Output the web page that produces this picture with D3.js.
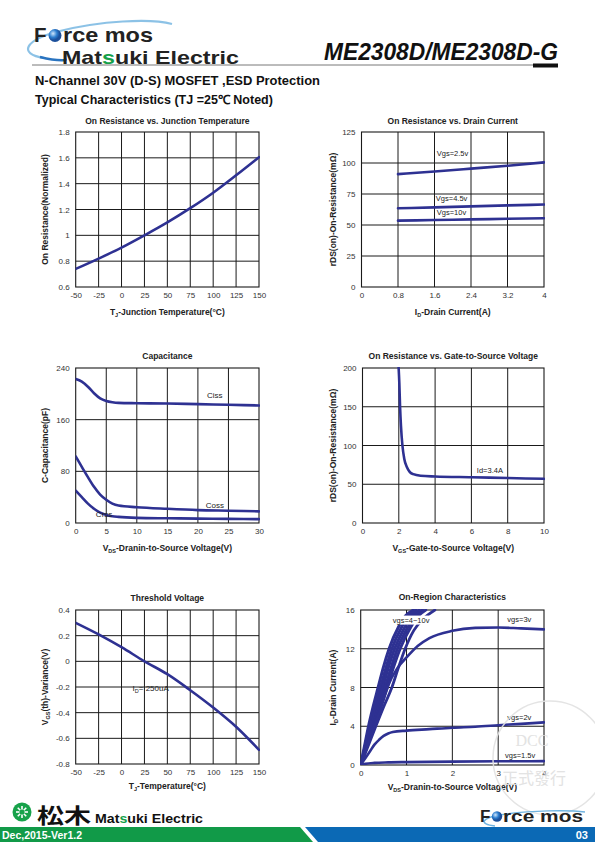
<!DOCTYPE html>
<html><head><meta charset="utf-8">
<script src="https://cdn.jsdelivr.net/npm/d3@7"></script>
<style>
html,body{margin:0;padding:0;background:#fff;}
svg{display:block;font-family:"Liberation Sans",Arial,sans-serif;}
</style></head>
<body>
<svg id="page" width="595" height="842"></svg>
<script>
// ---------------- DATA ----------------
// Chart 1: On Resistance vs Junction Temperature
const c1Temp = [-50,-25,0,25,50,75,100,125,150];
const c1Ron  = [0.74,0.82,0.905,1.0,1.1,1.21,1.33,1.465,1.605];
const c1XTicks = [-50,-25,0,25,50,75,100,125,150];
const c1YTicks = [0.6,0.8,1,1.2,1.4,1.6,1.8];

// Chart 2: On Resistance vs Drain Current
const c2Id = [0.8,1.6,2.4,3.2,4];
const c2Vgs25 = [91,93.2,95.5,97.8,100.5];
const c2Vgs45 = [63.5,64.2,65,65.8,66.5];
const c2Vgs10 = [53.5,54,54.5,55,55.5];
const c2XTicks = [0,0.8,1.6,2.4,3.2,4];
const c2YTicks = [0,25,50,75,100,125];

// Chart 3: Capacitance
const c3Vds  = [0,1,2,3,4,5,6,7,10,15,20,25,30];
const c3Ciss = [223,219,211,201,193,189,187,186,185.5,185,184,183,182];
const c3Coss = [103,87,71,56,44,36,30,27,24.5,22,20,19,18];
const c3Crss = [50,40,30,22,16,12.5,10.5,9.5,8,7.3,6.8,6.4,6];
const c3XTicks = [0,5,10,15,20,25,30];
const c3YTicks = [0,80,160,240];

// Chart 4: On Resistance vs Gate-to-Source Voltage
const c4Vgs = [1.98,2.03,2.07,2.12,2.2,2.3,2.45,2.6,2.8,3.2,4,6,8,10];
const c4Ron = [205,180,150,125,100,83,72,66,63,61,60,59,58,57];
const c4XTicks = [0,2,4,6,8,10];
const c4YTicks = [0,50,100,150,200];

// Chart 5: Threshold Voltage
const c5Temp = [-50,-25,0,25,50,75,100,125,150];
const c5Vth  = [0.3,0.21,0.11,0.0,-0.1,-0.225,-0.36,-0.51,-0.69];
const c5XTicks = [-50,-25,0,25,50,75,100,125,150];
const c5YTicks = [-0.8,-0.6,-0.4,-0.2,0,0.2,0.4];

// Chart 6: On-Region Characteristics (vgs = 4~10 V family, then 3, 2, 1.5 V)
const c6IdFam  = [0,2,4,6,8,10,12,14.3,15.4,16];
const c6VdsA   = [0,0.085,0.17,0.27,0.38,0.49,0.62,0.83,0.98,1.15];
const c6VdsA2  = [0,0.1,0.2,0.31,0.43,0.55,0.68,0.9,1.05,1.21];
const c6VdsB   = [0,0.115,0.23,0.35,0.48,0.6,0.74,0.97,1.12,1.28];
const c6VdsB2  = [0,0.13,0.26,0.39,0.53,0.66,0.8,1.04,1.19,1.35];
const c6VdsC   = [0,0.145,0.29,0.43,0.58,0.71,0.86,1.1,1.26,1.42];
const c6IdD    = [0,2,4,6,8,10,12,13.9,15.1,16];
const c6VdsD   = [0,0.165,0.33,0.5,0.68,0.82,0.97,1.16,1.37,1.62];
const c6Vds3 = [0,0.15,0.3,0.45,0.6,0.8,1.0,1.25,1.5,2,2.5,3,3.5,4];
const c6Id3  = [0,2,4,6,8.2,10,11.1,12.3,13.1,13.85,14.15,14.2,14.1,14.0];
const c6Vds2 = [0,0.1,0.2,0.3,0.4,0.5,0.6,0.7,1,1.5,2,2.5,3,3.5,4];
const c6Id2  = [0,0.7,1.4,2.1,2.6,3.0,3.25,3.4,3.55,3.7,3.85,3.95,4.1,4.25,4.4];
const c6Vds15 = [0,0.1,0.3,0.6,1,2,3,4];
const c6Id15  = [0,0.12,0.22,0.27,0.3,0.35,0.38,0.4];
const c6XTicks = [0,1,2,3,4];
const c6YTicks = [0,4,8,12,16];

// ---------------- DRAWING ----------------
const svg = d3.select('#page');
const CURVE = '#2e3192';
const zip = (xs, ys) => xs.map((v,i)=>[v, ys[i]]);
let clipId = 0;

function richText(g, parts, attrs, small) {
  const t = g.append('text');
  Object.entries(attrs).forEach(([k,v]) => t.attr(k, v));
  let prevSub = false;
  parts.forEach(([s, sub]) => {
    const ts = t.append('tspan').text(s);
    if (sub) { ts.attr('font-size', small).attr('dy', 1.6); prevSub = true; }
    else if (prevSub) { ts.attr('dy', -1.6); prevSub = false; }
  });
  return t;
}

function panel(o) {
  const x = d3.scaleLinear().domain(o.xDomain).range([o.L, o.R]);
  const y = d3.scaleLinear().domain(o.yDomain).range([o.B, o.T]);
  const g = svg.append('g');
  g.append('g').selectAll('line').data(o.xGrid).join('line')
    .attr('x1', d=>x(d)).attr('x2', d=>x(d)).attr('y1', o.T).attr('y2', o.B)
    .attr('stroke', '#1a1a1a').attr('stroke-width', 1);
  g.append('g').selectAll('line').data(o.yGrid).join('line')
    .attr('y1', d=>y(d)).attr('y2', d=>y(d)).attr('x1', o.L).attr('x2', o.R)
    .attr('stroke', '#1a1a1a').attr('stroke-width', 1);
  g.append('rect').attr('x', o.L).attr('y', o.T).attr('width', o.R-o.L).attr('height', o.B-o.T)
    .attr('fill', 'none').attr('stroke', '#1a1a1a').attr('stroke-width', 1.1);
  const fmt = d => String(d);
  const ay = g.append('g').attr('transform', `translate(${o.L},0)`)
    .call(d3.axisLeft(y).tickValues(o.yTicks).tickSize(0).tickPadding(6).tickFormat(fmt));
  const ax = g.append('g').attr('transform', `translate(0,${o.B})`)
    .call(d3.axisBottom(x).tickValues(o.xTicks).tickSize(0).tickPadding(5).tickFormat(fmt));
  [ax, ay].forEach(a => {
    a.select('.domain').remove();
    a.selectAll('text').attr('font-size', 8).attr('fill', '#333').attr('font-family', '"Liberation Sans",Arial,sans-serif');
  });
  g.append('text').attr('x', (o.L+o.R)/2).attr('y', o.titleY).attr('text-anchor', 'middle')
    .attr('font-size', 8.5).attr('font-weight', 'bold').attr('fill', '#222').text(o.title);
  richText(g, o.xTitle, {x:(o.L+o.R)/2, y:o.xTitleY, 'text-anchor':'middle', 'font-size':8.5,
    'font-weight':'bold', fill:'#222'}, 5.5);
  richText(g, o.yTitle, {transform:`translate(${o.yTitleX},${(o.T+o.B)/2}) rotate(-90)`,
    'text-anchor':'middle', 'font-size':8.5, 'font-weight':'bold', fill:'#222'}, 5.5);
  const id = 'clip' + (clipId++);
  svg.append('clipPath').attr('id', id).append('rect')
    .attr('x', o.L).attr('y', o.T - 1).attr('width', o.R-o.L+1).attr('height', o.B-o.T+1);
  const cg = g.append('g').attr('clip-path', `url(#${id})`);
  const line = d3.line().x(d=>x(d[0])).y(d=>y(d[1])).curve(d3.curveMonotoneX);
  o.series.forEach(s => {
    cg.append('path').datum(s.data).attr('d', line).attr('fill', 'none')
      .attr('stroke', CURVE).attr('stroke-width', s.w || 2.6).attr('stroke-linejoin', 'round').attr('stroke-linecap', 'round');
  });
  return {x, y, g};
}

const LL = 75.7, LR = 259, RL = 361.5, RR = 544;

// Chart 1
panel({
  L: LL, R: LR, T: 132, B: 287, xDomain: [-50,150], yDomain: [0.6,1.8],
  xGrid: [-25,0,25,50,75,100,125], yGrid: [0.8,1,1.2,1.4,1.6],
  xTicks: c1XTicks, yTicks: c1YTicks,
  title: 'On Resistance vs. Junction Temperature', titleY: 124,
  xTitle: [['T',false],['J',true],['-Junction Temperature(°C)',false]], xTitleY: 315,
  yTitle: [['On Resistance(Normalized)',false]], yTitleX: 48,
  series: [{data: zip(c1Temp, c1Ron)}]
});

// Chart 2
const p2 = panel({
  L: RL, R: RR, T: 132, B: 287, xDomain: [0,4], yDomain: [0,125],
  xGrid: [0.8,1.6,2.4,3.2], yGrid: [25,50,75,100],
  xTicks: c2XTicks, yTicks: c2YTicks,
  title: 'On Resistance vs. Drain Current', titleY: 124,
  xTitle: [['I',false],['D',true],['-Drain Current(A)',false]], xTitleY: 315,
  yTitle: [['rDS(on)-On-Resistance(mΩ)',false]], yTitleX: 336,
  series: [{data: zip(c2Id, c2Vgs25)}, {data: zip(c2Id, c2Vgs45)}, {data: zip(c2Id, c2Vgs10)}]
});
[['Vgs=2.5v', 1.65, 105.5], ['Vgs=4.5v', 1.63, 69.5], ['Vgs=10v', 1.65, 58.2]].forEach(([t, xv, yv]) => {
  p2.g.append('text').attr('x', p2.x(xv)).attr('y', p2.y(yv)).attr('font-size', 7.5).attr('fill', '#222').text(t);
});

// Chart 3
const p3 = panel({
  L: LL, R: LR, T: 368, B: 523, xDomain: [0,30], yDomain: [0,240],
  xGrid: [5,10,15,20,25], yGrid: [80,160],
  xTicks: c3XTicks, yTicks: c3YTicks,
  title: 'Capacitance', titleY: 359,
  xTitle: [['V',false],['DS',true],['-Dranin-to-Source Voltage(V)',false]], xTitleY: 551,
  yTitle: [['C-Capacitance(pF)',false]], yTitleX: 48,
  series: [{data: zip(c3Vds, c3Ciss)}, {data: zip(c3Vds, c3Coss)}, {data: zip(c3Vds, c3Crss)}]
});
[['Ciss', 21.5, 193], ['Coss', 21.3, 23], ['Crss', 3.3, 9]].forEach(([t, xv, yv]) => {
  p3.g.append('text').attr('x', p3.x(xv)).attr('y', p3.y(yv)).attr('font-size', 8).attr('fill', '#222').text(t);
});

// Chart 4
const p4 = panel({
  L: RL + 1, R: RR, T: 368, B: 523, xDomain: [0,10], yDomain: [0,200],
  xGrid: [2,4,6,8], yGrid: [50,100,150],
  xTicks: c4XTicks, yTicks: c4YTicks,
  title: 'On Resistance vs. Gate-to-Source Voltage', titleY: 359,
  xTitle: [['V',false],['GS',true],['-Gate-to-Source Voltage(V)',false]], xTitleY: 551,
  yTitle: [['rDS(on)-On-Resistance(mΩ)',false]], yTitleX: 336,
  series: [{data: zip(c4Vgs, c4Ron)}]
});
p4.g.append('text').attr('x', p4.x(6.3)).attr('y', p4.y(64.5)).attr('font-size', 7.5).attr('fill', '#222').text('Id=3.4A');

// Chart 5
const p5 = panel({
  L: LL, R: LR, T: 610, B: 764, xDomain: [-50,150], yDomain: [-0.8,0.4],
  xGrid: [-25,0,25,50,75,100,125], yGrid: [-0.6,-0.4,-0.2,0,0.2],
  xTicks: c5XTicks, yTicks: c5YTicks,
  title: 'Threshold Voltage', titleY: 601,
  xTitle: [['T',false],['J',true],['-Temperature(°C)',false]], xTitleY: 789,
  yTitle: [['V',false],['GS',true],['(th)-Variance(V)',false]], yTitleX: 48,
  series: [{data: zip(c5Temp, c5Vth)}]
});
richText(p5.g, [['I',false],['D',true],['= 250uA',false]], {x: p5.x(12), y: p5.y(-0.235), 'font-size': 8, fill: '#222'}, 5.5);

// Chart 6
const p6 = panel({
  L: 360.7, R: RR, T: 610, B: 765, xDomain: [0,4], yDomain: [0,16],
  xGrid: [1,2,3], yGrid: [4,8,12],
  xTicks: c6XTicks, yTicks: c6YTicks,
  title: 'On-Region Characteristics', titleY: 600,
  xTitle: [['V',false],['DS',true],['-Dranin-to-Source Voltage(V)',false]], xTitleY: 790,
  yTitle: [['I',false],['D',true],['-Drain Current(A)',false]], yTitleX: 336,
  series: [
    {data: zip(c6VdsA, c6IdFam), w: 3}, {data: zip(c6VdsA2, c6IdFam), w: 3},
    {data: zip(c6VdsB, c6IdFam), w: 3}, {data: zip(c6VdsB2, c6IdFam), w: 3},
    {data: zip(c6VdsC, c6IdFam), w: 3}, {data: zip(c6VdsD, c6IdD), w: 2.8},
    {data: zip(c6Vds3, c6Id3)}, {data: zip(c6Vds2, c6Id2)}, {data: zip(c6Vds15, c6Id15)}
  ]
});
{
  const lbl = p6.g.append('g');
  const t = lbl.append('text').attr('x', p6.x(0.7)).attr('y', p6.y(14.7)).attr('font-size', 7.5).attr('fill', '#222').text('vgs=4~10v');
  const bb = t.node().getBBox();
  lbl.insert('rect', 'text').attr('x', bb.x - 1).attr('y', bb.y).attr('width', bb.width + 2).attr('height', bb.height).attr('fill', '#fff');
  [['vgs=3v', 3.2, 14.75], ['vgs=2v', 3.2, 4.6], ['vgs=1.5v', 3.15, 0.7]].forEach(([s, xv, yv]) => {
    p6.g.append('text').attr('x', p6.x(xv)).attr('y', p6.y(yv)).attr('font-size', 7.5).attr('fill', '#222').text(s);
  });
}

// ---------------- HEADER ----------------
const hdr = svg.append('g');
hdr.append('path').attr('d', 'M44,58 C18,54 24,40 60,31 C100,21 150,18 172,24')
  .attr('fill', 'none').attr('stroke', '#6fb3e0').attr('stroke-width', 2.2).attr('opacity', 0.8);
hdr.append('path').attr('d', 'M40,57 C60,62 70,60 64,59')
  .attr('fill', 'none').attr('stroke', '#2a74c0').attr('stroke-width', 2.5);
hdr.append('text').attr('x', 34).attr('y', 42).attr('font-size', 20.5).attr('font-weight', 'bold').attr('fill', '#222').text('F');
const grad = svg.append('defs').append('radialGradient').attr('id', 'ball').attr('cx', '35%').attr('cy', '35%');
grad.append('stop').attr('offset', '0%').attr('stop-color', '#cfe6fb');
grad.append('stop').attr('offset', '60%').attr('stop-color', '#2d7fd0');
grad.append('stop').attr('offset', '100%').attr('stop-color', '#1b4f9a');
hdr.append('circle').attr('cx', 55).attr('cy', 35.5).attr('r', 6.5).attr('fill', 'url(#ball)');
hdr.append('text').attr('x', 63).attr('y', 42).attr('font-size', 20.5).attr('font-weight', 'bold').attr('fill', '#222')
  .attr('textLength', 90).attr('lengthAdjust', 'spacingAndGlyphs').text('rce mos');
const me = hdr.append('text').attr('x', 62).attr('y', 63.5).attr('font-size', 18.5).attr('font-weight', 'bold').attr('fill', '#222')
  .attr('textLength', 177).attr('lengthAdjust', 'spacingAndGlyphs');
me.append('tspan').text('Mat');
me.append('tspan').attr('fill', '#14a04a').text('s');
me.append('tspan').text('uki Electric');
hdr.append('line').attr('x1', 32).attr('x2', 558).attr('y1', 65).attr('y2', 65).attr('stroke', '#555').attr('stroke-width', 0.8);
hdr.append('rect').attr('x', 533).attr('y', 63.5).attr('width', 25).attr('height', 4).attr('fill', '#111');
hdr.append('text').attr('x', 324).attr('y', 60).attr('font-size', 23).attr('font-style', 'italic').attr('font-weight', 'bold').attr('fill', '#111')
  .attr('textLength', 234).attr('lengthAdjust', 'spacingAndGlyphs').text('ME2308D/ME2308D-G');
hdr.append('text').attr('x', 35).attr('y', 84.5).attr('font-size', 12.5).attr('font-weight', 'bold').attr('fill', '#111')
  .attr('textLength', 285).attr('lengthAdjust', 'spacingAndGlyphs')
  .text('N-Channel 30V (D-S) MOSFET ,ESD Protection');
hdr.append('text').attr('x', 35).attr('y', 104).attr('font-size', 12.5).attr('font-weight', 'bold').attr('fill', '#111')
  .text('Typical Characteristics (TJ =25℃ Noted)');

// ---------------- WATERMARK ----------------
const wm = svg.append('g').attr('opacity', 0.9);
wm.append('circle').attr('cx', 550).attr('cy', 758).attr('r', 57).attr('fill', 'none').attr('stroke', '#e2e2e2').attr('stroke-width', 1.5);
wm.append('text').attr('x', 532).attr('y', 746).attr('text-anchor', 'middle').attr('font-size', 16)
  .attr('font-family', '"Liberation Serif",serif').attr('fill', '#e0e0e0').text('DCC');
wm.append('text').attr('x', 534).attr('y', 784).attr('text-anchor', 'middle').attr('font-size', 16)
  .attr('font-family', '"Noto Sans CJK TC",sans-serif').attr('fill', '#e0e0e0').text('正式發行');

// ---------------- FOOTER ----------------
const ft = svg.append('g');
ft.append('path').attr('d', 'M0,827 L300,827 L313,842 L0,842 Z').attr('fill', '#119a48');
ft.append('path').attr('d', 'M305,827 L595,827 L595,842 L318,842 Z').attr('fill', '#0b69b5');
ft.append('text').attr('x', 2).attr('y', 839).attr('font-size', 10.5).attr('font-weight', 'bold').attr('fill', '#fff')
  .attr('font-family', '"Liberation Sans Narrow","Liberation Sans",sans-serif').text('Dec,2015-Ver1.2');
ft.append('text').attr('x', 588).attr('y', 839).attr('text-anchor', 'end').attr('font-size', 11).attr('font-weight', 'bold').attr('fill', '#fff').text('03');
const fl = ft.append('g').attr('transform', 'translate(22,812)');
fl.append('circle').attr('r', 9.5).attr('fill', '#17a24a');
d3.range(0, 180, 45).forEach(a => {
  fl.append('line').attr('x1', -6).attr('x2', 6).attr('y1', 0).attr('y2', 0)
    .attr('transform', `rotate(${a})`).attr('stroke', '#fff').attr('stroke-width', 1.6);
});
fl.append('circle').attr('r', 2.6).attr('fill', '#17a24a');
ft.append('text').attr('x', 37).attr('y', 823).attr('font-size', 21).attr('font-weight', 'bold').attr('fill', '#111')
  .attr('font-family', '"Noto Sans CJK JP",sans-serif').attr('textLength', 54).attr('lengthAdjust', 'spacingAndGlyphs').text('松木');
const fm = ft.append('text').attr('x', 95).attr('y', 823).attr('font-size', 12.5).attr('font-weight', 'bold').attr('fill', '#111')
  .attr('textLength', 108).attr('lengthAdjust', 'spacingAndGlyphs');
fm.append('tspan').text('Mat'); fm.append('tspan').attr('fill', '#14a04a').text('s'); fm.append('tspan').text('uki Electric');
ft.append('path').attr('d', 'M495,826 C478,824 482,818 500,815 C530,810 570,810 585,812')
  .attr('fill', 'none').attr('stroke', '#6fb3e0').attr('stroke-width', 1.5);
ft.append('text').attr('x', 480).attr('y', 822).attr('font-size', 17).attr('font-weight', 'bold').attr('fill', '#222').text('F');
ft.append('circle').attr('cx', 497).attr('cy', 816.5).attr('r', 5.2).attr('fill', 'url(#ball)');
ft.append('text').attr('x', 503).attr('y', 822).attr('font-size', 17).attr('font-weight', 'bold').attr('fill', '#222')
  .attr('textLength', 80).attr('lengthAdjust', 'spacingAndGlyphs').text('rce mos');
</script>
</body></html>
